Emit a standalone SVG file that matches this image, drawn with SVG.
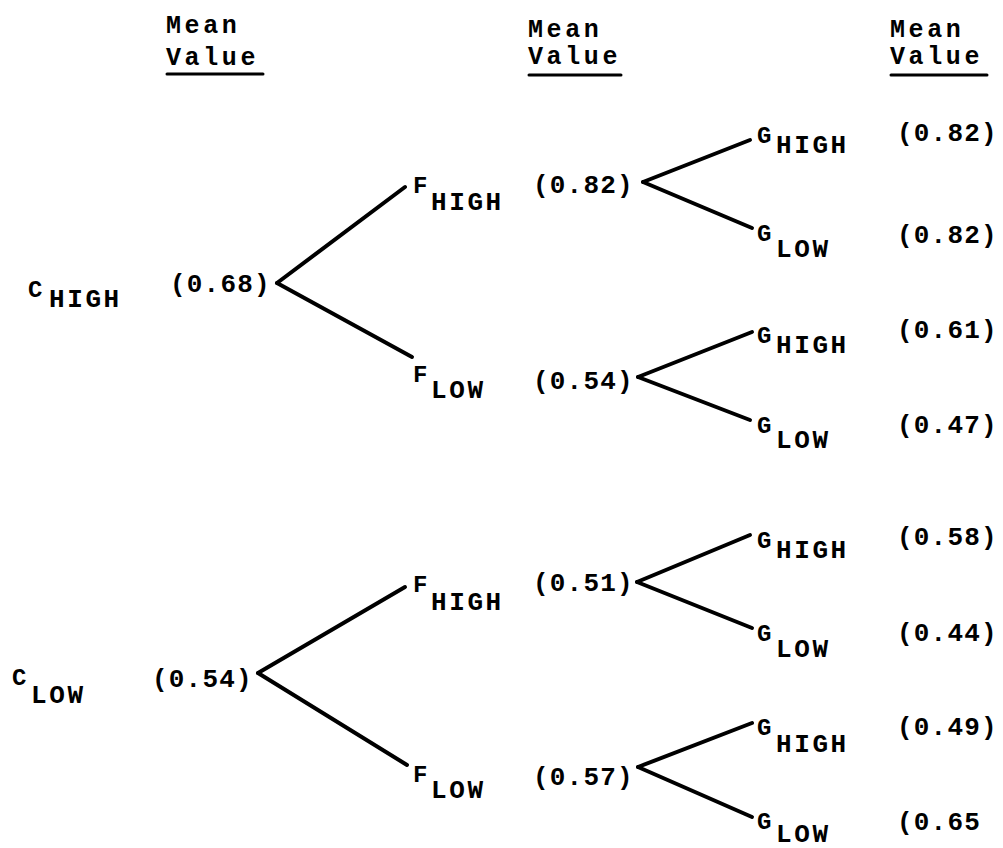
<svg xmlns="http://www.w3.org/2000/svg" width="1003" height="848" viewBox="0 0 1003 848">
<style>
text{font-family:"Liberation Mono","DejaVu Sans Mono",monospace;font-weight:bold;fill:#000}
.h{font-size:25px;letter-spacing:3.6px}
.v{font-size:26px;letter-spacing:1.2px}
.m{font-size:24px}
.s{font-size:26px;letter-spacing:2.6px}
.ul{stroke:#000;stroke-width:3;stroke-linecap:round}
.c line{stroke:#000;stroke-width:4;stroke-linecap:round}
</style>
<rect width="1003" height="848" fill="#fff"/>
<g id="headers">
<text class="h" x="166" y="33">Mean</text>
<text class="h" x="166" y="65">Value</text>
<line class="ul" x1="167" y1="74" x2="263" y2="74"/>
<text class="h" x="528" y="37">Mean</text>
<text class="h" x="528" y="64">Value</text>
<line class="ul" x1="529" y1="75" x2="621" y2="75"/>
<text class="h" x="890" y="37">Mean</text>
<text class="h" x="890" y="64">Value</text>
<line class="ul" x1="891" y1="75" x2="987" y2="75"/>
</g>
<g class="c" id="connectors">
<line x1="277" y1="283" x2="405" y2="187"/>
<line x1="277" y1="283" x2="412" y2="357"/>
<line x1="643" y1="182" x2="750" y2="140"/>
<line x1="643" y1="182" x2="752" y2="228"/>
<line x1="638" y1="377" x2="752" y2="332"/>
<line x1="638" y1="377" x2="750" y2="420"/>
<line x1="258" y1="673" x2="405" y2="587"/>
<line x1="258" y1="673" x2="407" y2="765"/>
<line x1="637" y1="582" x2="750" y2="535"/>
<line x1="637" y1="582" x2="752" y2="628"/>
<line x1="638" y1="767" x2="752" y2="723"/>
<line x1="638" y1="767" x2="752" y2="817"/>
</g>
<g id="c-high"><text class="m" x="28" y="297">C</text><text class="s" x="49" y="307">HIGH</text><text class="v" x="170" y="292">(0.68)</text></g>
<g id="c-low"><text class="m" x="12" y="685">C</text><text class="s" x="31" y="703">LOW</text><text class="v" x="152" y="687">(0.54)</text></g>
<g id="f-high-1"><text class="m" x="413" y="193">F</text><text class="s" x="431" y="210">HIGH</text><text class="v" x="533" y="193">(0.82)</text></g>
<g id="f-low-1"><text class="m" x="413" y="382">F</text><text class="s" x="431" y="398">LOW</text><text class="v" x="533" y="389">(0.54)</text></g>
<g id="f-high-2"><text class="m" x="413" y="592">F</text><text class="s" x="431" y="610">HIGH</text><text class="v" x="533" y="591">(0.51)</text></g>
<g id="f-low-2"><text class="m" x="413" y="782">F</text><text class="s" x="431" y="798">LOW</text><text class="v" x="533" y="785">(0.57)</text></g>
<g id="g-high-1"><text class="m" x="757" y="143">G</text><text class="s" x="776" y="153">HIGH</text><text class="v" x="897" y="141">(0.82)</text></g>
<g id="g-low-1"><text class="m" x="757" y="241">G</text><text class="s" x="776" y="257">LOW</text><text class="v" x="897" y="243">(0.82)</text></g>
<g id="g-high-2"><text class="m" x="757" y="343">G</text><text class="s" x="776" y="353">HIGH</text><text class="v" x="897" y="338">(0.61)</text></g>
<g id="g-low-2"><text class="m" x="757" y="433">G</text><text class="s" x="776" y="448">LOW</text><text class="v" x="897" y="433">(0.47)</text></g>
<g id="g-high-3"><text class="m" x="757" y="548">G</text><text class="s" x="776" y="558">HIGH</text><text class="v" x="897" y="545">(0.58)</text></g>
<g id="g-low-3"><text class="m" x="757" y="641">G</text><text class="s" x="776" y="657">LOW</text><text class="v" x="897" y="641">(0.44)</text></g>
<g id="g-high-4"><text class="m" x="757" y="735">G</text><text class="s" x="776" y="752">HIGH</text><text class="v" x="897" y="735">(0.49)</text></g>
<g id="g-low-4"><text class="m" x="757" y="829">G</text><text class="s" x="776" y="842">LOW</text><text class="v" x="897" y="830">(0.65</text></g>
</svg>
